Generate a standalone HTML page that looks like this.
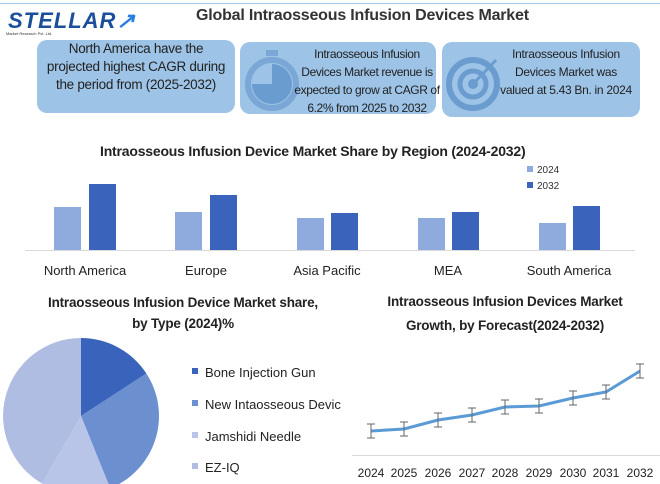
<!DOCTYPE html><html><head><style>
body{margin:0;width:660px;height:484px;overflow:hidden;background:#fff;font-family:"Liberation Sans",sans-serif;position:relative}
.a{position:absolute}
.box{position:absolute;background:#9dc3e6;border-radius:10px;font-size:13px;color:#222;text-align:center;line-height:18px}
</style></head><body>
<div class="a" style="left:0;top:3px;width:660px;height:1px;background:#9dc3e6"></div>
<div class="a" style="left:8px;top:8px;font-size:22px;font-weight:bold;color:#1b4f9c;letter-spacing:1px;font-style:italic">STELLAR<span style="color:#2a7de1">↗</span></div>
<div class="a" style="left:6px;top:31px;font-size:4px;color:#333">Market Research Pvt. Ltd.</div>
<div class="a" style="left:196px;top:7px;font-size:16px;font-weight:bold;color:#333;letter-spacing:-0.2px">Global Intraosseous Infusion Devices Market</div>
<div class="box" style="left:37px;top:40px;width:182px;height:73px;padding:0 8px;font-size:13.5px;letter-spacing:-0.3px">North America have the projected highest CAGR during the period from (2025-2032)</div>
<div class="box" style="left:240px;top:42px;width:196px;height:72px"></div>
<svg class="a" style="left:244px;top:48px" width="60" height="66"><circle cx="28" cy="36" r="24" fill="none" stroke="#7aa7d6" stroke-width="6"/><path d="M28 36 V16 A20 20 0 1 1 8 36 Z" fill="#6b9cd0"/><rect x="22" y="2" width="12" height="6" fill="#7aa7d6"/></svg>
<div class="a" style="left:294px;top:45px;width:146px;font-size:12px;letter-spacing:-0.4px;text-align:center;line-height:18px;color:#222">Intraosseous Infusion Devices Market revenue is expected to grow at CAGR of 6.2% from 2025 to 2032</div>
<div class="box" style="left:442px;top:42px;width:198px;height:75px"></div>
<svg class="a" style="left:446px;top:52px" width="60" height="60"><circle cx="27" cy="32" r="24" fill="none" stroke="#6b9cd0" stroke-width="6"/><circle cx="27" cy="32" r="13" fill="none" stroke="#6b9cd0" stroke-width="5"/><circle cx="27" cy="32" r="5" fill="#6b9cd0"/><line x1="27" y1="32" x2="50" y2="8" stroke="#6b9cd0" stroke-width="3"/></svg>
<div class="a" style="left:500px;top:45px;width:132px;font-size:12px;letter-spacing:-0.3px;text-align:center;line-height:18px;color:#222">Intraosseous Infusion Devices Market was valued at 5.43 Bn. in 2024</div>
<div class="a" style="left:100px;top:143px;font-size:14px;font-weight:bold;color:#222;letter-spacing:-0.2px">Intraosseous Infusion Device Market Share by Region (2024-2032)</div>
<svg class="a" style="left:0;top:0" width="660" height="484">
<rect x="527" y="166" width="6" height="6" fill="#8faadc"/><text x="537" y="173" font-size="10" fill="#333">2024</text>
<rect x="527" y="182" width="6" height="6" fill="#3a64bb"/><text x="537" y="189" font-size="10" fill="#333">2032</text>
<g fill="#8faadc"><rect x="54" y="207" width="27" height="43"/><rect x="175" y="212" width="27" height="38"/><rect x="297" y="218" width="27" height="32"/><rect x="418" y="218" width="27" height="32"/><rect x="539" y="223" width="27" height="27"/></g>
<g fill="#3a64bb"><rect x="89" y="184" width="27" height="66"/><rect x="210" y="195" width="27" height="55"/><rect x="331" y="213" width="27" height="37"/><rect x="452" y="212" width="27" height="38"/><rect x="573" y="206" width="27" height="44"/></g>
<line x1="25" y1="250.5" x2="635" y2="250.5" stroke="#d9d9d9"/>
<g font-size="13" fill="#222" text-anchor="middle"><text x="85" y="275">North America</text><text x="206" y="275">Europe</text><text x="327" y="275">Asia Pacific</text><text x="448" y="275">MEA</text><text x="569" y="275">South America</text></g>
<g font-size="13.5" font-weight="bold" fill="#222" text-anchor="middle" letter-spacing="-0.2"><text x="183" y="307">Intraosseous Infusion Device Market share,</text><text x="183" y="328">by Type (2024)%</text><text x="505" y="306">Intraosseous Infusion Devices Market</text><text x="505" y="330">Growth, by Forecast(2024-2032)</text></g>
<path d="M81 416 L81 338 A78 78 0 0 1 146.4 373.5 Z" fill="#3a64bb"/>
<path d="M81 416 L146.4 373.5 A78 78 0 0 1 110.2 488.3 Z" fill="#6c8fd0"/>
<path d="M81 416 L110.2 488.3 A78 78 0 0 1 42 483.5 Z" fill="#b9c5e8"/>
<path d="M81 416 L42 483.5 A78 78 0 0 1 81 338 Z" fill="#b0bde3"/>
<rect x="192" y="368" width="6" height="6" fill="#3a64bb"/><rect x="192" y="400" width="6" height="6" fill="#6c8fd0"/><rect x="192" y="432" width="6" height="6" fill="#b9c5e8"/><rect x="192" y="463" width="6" height="6" fill="#b0bde3"/>
<g font-size="13" fill="#222"><text x="205" y="377">Bone Injection Gun</text><text x="205" y="409">New Intaosseous Devic</text><text x="205" y="441">Jamshidi Needle</text><text x="205" y="472">EZ-IQ</text></g>
<line x1="352" y1="455.5" x2="660" y2="455.5" stroke="#d9d9d9"/>
<polyline points="371,431 404,429 438,420 472,415 505,407 539,406 573,398 606,392 640,371" fill="none" stroke="#5b9bd5" stroke-width="3"/>
<g stroke="#666" stroke-width="1">
<path d="M371 424v14M367 424h8M367 438h8M404 422v14M400 422h8M400 436h8M438 413v14M434 413h8M434 427h8M472 408v14M468 408h8M468 422h8M505 400v14M501 400h8M501 414h8M539 399v14M535 399h8M535 413h8M573 391v14M569 391h8M569 405h8M606 385v14M602 385h8M602 399h8M640 364v14M636 364h8M636 378h8"/></g>
<g font-size="12" fill="#222" text-anchor="middle"><text x="371" y="477">2024</text><text x="404" y="477">2025</text><text x="438" y="477">2026</text><text x="472" y="477">2027</text><text x="505" y="477">2028</text><text x="539" y="477">2029</text><text x="573" y="477">2030</text><text x="606" y="477">2031</text><text x="640" y="477">2032</text></g>
</svg>
</body></html>
